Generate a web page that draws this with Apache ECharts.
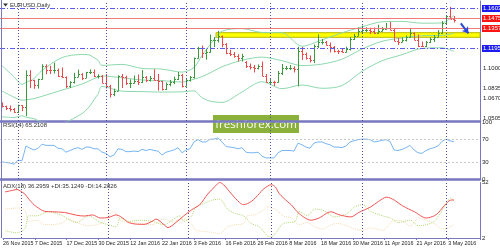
<!DOCTYPE html>
<html><head><meta charset="utf-8">
<script src="https://cdn.jsdelivr.net/npm/echarts@6/dist/echarts.min.js"></script>
<style>html,body{margin:0;padding:0;background:#fff}#c{width:500px;height:250px}</style>
</head><body><div id="c"></div>
<script>
// ---- data ----
const tickLabels = ["26 Nov 2015","7 Dec 2015","17 Dec 2015","30 Dec 2015","12 Jan 2016","22 Jan 2016","3 Feb 2016","16 Feb 2016","26 Feb 2016","8 Mar 2016","18 Mar 2016","30 Mar 2016","11 Apr 2016","21 Apr 2016","3 May 2016"];
const monthStarts = [4, 26, 46, 67, 90, 111];

const open = [1.0643,1.0623,1.0610,1.0593,1.0565,1.0632,1.0612,1.0940,1.0884,1.0834,
 1.0893,1.1024,1.0990,1.0989,1.0990,1.0930,1.0913,1.0830,1.0866,1.0920,
 1.0950,1.0910,1.0963,1.0970,1.0930,1.0930,1.0860,1.0830,1.0745,1.0780,
 1.0930,1.0920,1.0855,1.0855,1.0875,1.0866,1.0915,1.0890,1.0910,1.0890,
 1.0875,1.0795,1.0848,1.0867,1.0895,1.0935,1.0830,1.0890,1.0917,1.1105,
 1.1207,1.1155,1.1170,1.1290,1.1290,1.1325,1.1250,1.1155,1.1145,1.1130,
 1.1105,1.1070,1.1025,1.1015,1.1010,1.1025,1.0930,1.0870,1.0870,1.0865,
 1.0955,1.1005,1.1010,1.1010,1.0995,1.1180,1.1150,1.1110,1.1090,1.1225,
 1.1270,1.1270,1.1240,1.1215,1.1180,1.1175,1.1165,1.1200,1.1300,1.1330,
 1.1380,1.1390,1.1390,1.1380,1.1355,1.1375,1.1400,1.1405,1.1390,1.1275,
 1.1265,1.1285,1.1315,1.1355,1.1290,1.1230,1.1225,1.1265,1.1300,1.1315,
 1.1355,1.1455,1.1525,1.1500];
const high = [1.0660,1.0628,1.0630,1.0605,1.0638,1.0635,1.0981,1.0984,1.0888,1.0897,
 1.1043,1.1042,1.1027,1.1058,1.1000,1.1010,1.0922,1.0873,1.0957,1.0990,
 1.0953,1.0967,1.0990,1.0990,1.0942,1.0935,1.0945,1.0837,1.0798,1.0933,
 1.0945,1.0928,1.0892,1.0930,1.0940,1.0985,1.0925,1.0925,1.0992,1.0945,
 1.0876,1.0860,1.0885,1.0918,1.0965,1.0947,1.0905,1.0925,1.1110,1.1216,
 1.1230,1.1197,1.1339,1.1315,1.1376,1.1330,1.1254,1.1188,1.1165,1.1143,
 1.1147,1.1075,1.1050,1.1035,1.1040,1.1070,1.0945,1.0895,1.0877,1.0975,
 1.1045,1.1025,1.1035,1.1022,1.1218,1.1215,1.1160,1.1130,1.1240,1.1340,
 1.1295,1.1275,1.1260,1.1225,1.1187,1.1196,1.1218,1.1315,1.1346,1.1410,
 1.1430,1.1412,1.1408,1.1410,1.1437,1.1415,1.1456,1.1465,1.1400,1.1305,
 1.1312,1.1330,1.1395,1.1360,1.1340,1.1270,1.1275,1.1310,1.1335,1.1385,
 1.1475,1.1535,1.1616,1.1525];
const low = [1.0611,1.0584,1.0570,1.0557,1.0555,1.0573,1.0524,1.0803,1.0797,1.0800,
 1.0890,1.0942,1.0945,1.0950,1.0915,1.0905,1.0805,1.0805,1.0850,1.0915,
 1.0884,1.0906,1.0945,1.0915,1.0900,1.0855,1.0800,1.0710,1.0723,1.0778,
 1.0805,1.0835,1.0805,1.0850,1.0835,1.0856,1.0863,1.0870,1.0880,1.0778,
 1.0780,1.0786,1.0822,1.0843,1.0885,1.0810,1.0823,1.0870,1.0900,1.1100,
 1.1105,1.1088,1.1160,1.1215,1.1260,1.1212,1.1143,1.1124,1.1108,1.1070,
 1.1070,1.1005,1.0990,1.0960,1.0990,1.0925,1.0860,1.0845,1.0825,1.0860,
 1.0935,1.0984,1.0985,1.0960,1.0821,1.1085,1.1090,1.1060,1.1055,1.1205,
 1.1240,1.1230,1.1160,1.1160,1.1145,1.1160,1.1160,1.1180,1.1285,1.1325,
 1.1345,1.1365,1.1345,1.1347,1.1350,1.1370,1.1390,1.1385,1.1275,1.1235,
 1.1265,1.1270,1.1310,1.1285,1.1215,1.1215,1.1215,1.1255,1.1265,1.1315,
 1.1348,1.1445,1.1495,1.1460];
const close = [1.0623,1.0610,1.0593,1.0565,1.0632,1.0612,1.0940,1.0884,1.0834,1.0893,
 1.1024,1.0990,1.0989,1.0990,1.0930,1.0913,1.0830,1.0866,1.0920,1.0950,
 1.0910,1.0963,1.0970,1.0930,1.0930,1.0860,1.0830,1.0745,1.0780,1.0930,
 1.0920,1.0855,1.0855,1.0875,1.0866,1.0915,1.0890,1.0910,1.0890,1.0875,
 1.0795,1.0848,1.0867,1.0895,1.0935,1.0830,1.0890,1.0917,1.1105,1.1207,
 1.1155,1.1170,1.1290,1.1290,1.1325,1.1250,1.1155,1.1145,1.1130,1.1105,
 1.1130,1.1025,1.1015,1.1010,1.1025,1.0930,1.0870,1.0870,1.0865,1.0955,
 1.1005,1.1010,1.1010,1.0995,1.1180,1.1150,1.1110,1.1090,1.1225,1.1270,
 1.1270,1.1240,1.1215,1.1180,1.1175,1.1165,1.1200,1.1300,1.1330,1.1380,
 1.1390,1.1390,1.1380,1.1355,1.1375,1.1400,1.1405,1.1390,1.1275,1.1265,
 1.1285,1.1315,1.1355,1.1290,1.1230,1.1225,1.1265,1.1300,1.1315,1.1355,
 1.1455,1.1525,1.1500,1.1490];

const bbUpper = [[0,1.1029],[3,1.0917],[5,1.0841],[6,1.0861],[8,1.0900],[10,1.0980],[15,1.1109],[20,1.1140],[21,1.1139],[22,1.1134],[23,1.1108],[24,1.1083],[25,1.1031],[30,1.1041],[35,1.1001],[40,1.0994],[45,1.0964],[48,1.1010],[50,1.1130],[52,1.1238],[55,1.1372],[60,1.1399],[65,1.1360],[70,1.1358],[75,1.1223],[80,1.1286],[85,1.1357],[90,1.1416],[95,1.1467],[100,1.1471],[105,1.1453],[110,1.1456],[113,1.1531]];
const bbMiddle = [[0,1.0775],[3,1.0713],[5,1.0684],[6,1.0687],[8,1.0699],[10,1.0722],[15,1.0784],[20,1.0844],[22,1.0880],[23,1.0899],[24,1.0913],[25,1.0926],[30,1.0907],[35,1.0885],[40,1.0879],[45,1.0865],[48,1.0893],[50,1.0919],[52,1.0956],[55,1.1017],[60,1.1082],[65,1.1114],[70,1.1078],[75,1.1029],[80,1.1044],[85,1.1093],[90,1.1194],[95,1.1272],[100,1.1305],[105,1.1327],[110,1.1331],[113,1.1351]];
const bbLower = [[0,1.0517],[3,1.0510],[5,1.0527],[6,1.0513],[8,1.0498],[10,1.0464],[15,1.0459],[20,1.0548],[21,1.0583],[22,1.0626],[23,1.0689],[24,1.0743],[25,1.0821],[30,1.0773],[35,1.0769],[40,1.0764],[45,1.0767],[48,1.0776],[50,1.0708],[52,1.0674],[55,1.0661],[60,1.0765],[65,1.0868],[70,1.0798],[75,1.0835],[80,1.0802],[85,1.0829],[90,1.0972],[95,1.1077],[100,1.1138],[105,1.1201],[110,1.1207],[113,1.1171]];

const rsi = [30,29,28,26,33,32,58,54,51,54,61,59,59,59,54,53,47,50,53,55,
 52,56,56,53,53,47,45,39,42,53,52,48,48,49,48,52,50,52,50,49,
 42,47,49,51,55,46,51,53,65,69,65,65,70,70,72,65,57,56,55,53,
 55,47,46,46,47,40,37,37,37,46,50,50,50,49,63,60,56,54,63,65,
 65,62,60,56,56,55,58,65,67,69,70,70,69,65,66,68,69,66,51,50,
 52,55,59,51,46,45,50,53,55,58,66,70,67,65.2];

const adx = [[0,43.5],[2,45],[3,45.7],[4,44],[5,41.6],[6,37],[7,33],[8,30],[10,26],[12,25.6],[15,25],[18,22.5],[20,21.8],[22,22.8],[24,20],[26,20.5],[28,22.8],[30,19],[31,16],[33,14.5],[35,14.3],[37,17],[38,19],[40,14],[41,11.4],[43,16],[45,22],[47,27.5],[49,32],[51,41.6],[53,49],[54,52],[55,50],[57,41.6],[59,34],[60,32],[62,35],[64,42],[65,46],[67,50],[68,48],[69,42],[71,35],[72,32],[74,24],[77,18],[79,20],[82,25.6],[84,23],[87,21],[89,25],[92,30],[94,35],[96,38.8],[98,36],[100,31],[103,25.6],[106,20],[108,22],[109,24.6],[110,29],[111,33],[112,36],[113,36.3]];
const plusDI = [[0,8.6],[3,6.7],[5,10.5],[6,22],[8,22],[11,25.6],[14,22.8],[18,16],[21,21.8],[24,16],[26,14],[28,12],[29,20],[31,17],[34,18],[37,17],[40,14],[42,18],[44,22],[45,17],[47,22],[48,30],[50,33],[52,36],[54,37],[56,28],[58,24],[60,22],[62,15],[64,12],[66,4],[67,3],[68,6],[70,15],[73,17],[74,26],[76,22],[78,28],[80,27],[83,21],[86,24],[88,30],[90,32],[92,26],[95,22],[97,20],[99,16],[102,18],[104,13],[106,14],[108,17],[110,27],[111,33],[112,38],[113,35.1]];
const minusDI = [[0,28],[3,29],[5,27],[6,17],[8,18],[10,14],[14,15],[16,19],[18,16],[21,13],[24,15],[26,20],[27,26],[28,24],[29,18],[31,17],[34,15],[37,14],[40,19],[42,17],[45,19],[47,14],[48,9],[50,8],[52,7],[54,6],[56,12],[58,14],[60,15],[61,22],[63,23],[65,27],[66,30],[67,29],[68,28],[70,22],[72,20],[74,14],[76,16],[78,12],[80,10],[82,14],[84,15],[86,13],[88,10],[90,9],[92,11],[95,9],[98,18],[100,17],[102,13],[104,20],[106,18],[108,15],[110,10],[112,12],[113,14.3]];

const blueLevels = [1.1603, 1.1195];
const redLevels = [1.1511, 1.1475, 1.1357];
const priceTicks = [1.1665, 1.1000, 1.0835, 1.0670, 1.0505];
const rsiTicks = [100, 70, 30, 0];
const rsiLevels = [70, 30];
const adxTicks = [52, 2];
const zonePrice = [1.1312, 1.1358];
const zoneStart = 54;
const arrowFrom = [114.7, 1.1452];
const arrowTo = [116.6, 1.1352];

// ---- chart ----
const FONT = 'Liberation Sans';
const AXIS = '#7878c0';
const SEP = '#4f4f9f';
const half = v => v + 0.5;
const pairs = arr => arr.map(p => [half(p[0]), p[1]]);
const sepLines = monthStarts.map(m => ({xAxis: half(m)}));
const sepStyle = {color: SEP, type: [1, 2], width: 1};

function renderOHLC(params, api) {
  const i = half(api.value(0));
  const o = api.coord([i, api.value(1)]);
  const h = api.coord([i, api.value(2)]);
  const l = api.coord([i, api.value(3)]);
  const c = api.coord([i, api.value(4)]);
  const x = Math.round(h[0]) + 0.5;
  const color = api.value(4) >= api.value(1) ? '#3c9a3c' : '#ec4a4a';
  const oy = Math.round(o[1]) + 0.5, cy = Math.round(c[1]) + 0.5;
  return {type: 'group', children: [
    {type: 'line', shape: {x1: x, y1: h[1], x2: x, y2: l[1]}, style: {stroke: color, lineWidth: 1}},
    {type: 'line', shape: {x1: x - 1.5, y1: oy, x2: x, y2: oy}, style: {stroke: color, lineWidth: 1}},
    {type: 'line', shape: {x1: x, y1: cy, x2: x + 1.5, y2: cy}, style: {stroke: color, lineWidth: 1}}
  ]};
}

function xAxisOf(gi, show) {
  return {
    type: 'value', gridIndex: gi, min: 0, max: 120, interval: 8,
    axisLine: {show: true, onZero: false, lineStyle: {color: AXIS, width: show ? 1 : 2.5}},
    axisTick: {show: show, length: 2, lineStyle: {color: AXIS}},
    axisLabel: {show: show, showMinLabel: true, showMaxLabel: true, hideOverlap: false, fontSize: 5.4, fontFamily: FONT, color: '#222', margin: 3, align: 'left',
      formatter: v => tickLabels[Math.round(v / 8)] || ''},
    splitLine: {show: false}
  };
}
function yAxisOf(gi, min, max, interval, ticks) {
  return {
    type: 'value', gridIndex: gi, position: 'right', min: min, max: max, interval: interval,
    axisLine: {show: true, onZero: false, lineStyle: {color: AXIS, width: 1}},
    axisTick: {show: false},
    axisLabel: {show: !!ticks, showMinLabel: true, showMaxLabel: true, fontSize: 6, fontFamily: FONT, color: '#222', margin: 2,
      formatter: v => (ticks && ticks.indexOf(v) >= 0) ? String(v) : ''},
    splitLine: {show: false}
  };
}

const levelLines = []
  .concat(blueLevels.map(v => ({name: v.toFixed(4), yAxis: v, lineStyle: {color: '#5a5af0', type: [5, 2, 1, 2], width: 1},
    label: {show: true, backgroundColor: '#1c1cf0', color: '#fff'}})))
  .concat(redLevels.map(v => ({name: v.toFixed(4), yAxis: v, lineStyle: {color: '#f27a7a', type: 'solid', width: 1},
    label: {show: true, backgroundColor: '#ff1414', color: '#fff'}})))
  .concat(priceTicks.map(v => ({name: v.toFixed(4), yAxis: v, lineStyle: {color: 'rgba(0,0,0,0)', width: 0},
    label: {show: true, color: '#222'}})));

const option = {
  animation: false,
  grid: [
    {left: 0, top: 1, width: 480, height: 120},
    {left: 0, top: 122, width: 480, height: 57},
    {left: 0, top: 182.5, width: 480, height: 55.5}
  ],
  xAxis: [xAxisOf(0, false), xAxisOf(1, false), xAxisOf(2, true)],
  yAxis: [
    yAxisOf(0, 1.0475, 1.1675, 0.01, null),
    yAxisOf(1, 0, 100, 10, rsiTicks),
    yAxisOf(2, 2, 52, 2, adxTicks)
  ],
  series: [
    {type: 'line', xAxisIndex: 0, yAxisIndex: 0, data: [], z: 1,
      markArea: {silent: true, itemStyle: {color: '#ffff00', borderColor: '#b8b800', borderWidth: 1},
        data: [[{xAxis: zoneStart, yAxis: zonePrice[0]}, {xAxis: 120, yAxis: zonePrice[1]}]]}},
    {name: 'bbU', type: 'line', xAxisIndex: 0, yAxisIndex: 0, data: pairs(bbUpper), smooth: 0.3, showSymbol: false, z: 2,
      lineStyle: {color: '#8ed8ad', width: 1}},
    {name: 'bbL', type: 'line', xAxisIndex: 0, yAxisIndex: 0, data: pairs(bbLower), smooth: 0.3, showSymbol: false, z: 2,
      lineStyle: {color: '#8ed8ad', width: 1}},
    {name: 'bbM', type: 'line', xAxisIndex: 0, yAxisIndex: 0, data: pairs(bbMiddle), smooth: 0.3, showSymbol: false, z: 2,
      lineStyle: {color: '#8ed8ad', width: 1},
      markLine: {silent: true, symbol: ['none', 'none'], animation: false,
        label: {show: false, position: 'end', distance: 2, fontSize: 6, fontFamily: FONT, padding: [1, 1, 0, 1],
          formatter: p => p.name},
        data: levelLines.concat(sepLines.map(s => Object.assign({lineStyle: sepStyle, label: {show: false}}, s)))
          .concat([[{coord: [half(arrowFrom[0]), arrowFrom[1]], symbol: 'none'},
                    {coord: [half(arrowTo[0]), arrowTo[1]], symbol: 'arrow', symbolSize: 6}]].map(a => {
            a[0].lineStyle = {color: '#2c48d8', width: 2, type: 'solid'}; a[0].label = {show: false}; return a; }))
      }},
    {name: 'ohlc', type: 'custom', xAxisIndex: 0, yAxisIndex: 0, z: 3,
      data: close.map((c, i) => [i, open[i], high[i], low[i], c]),
      encode: {x: 0, y: [1, 2, 3, 4]}, renderItem: renderOHLC},
    {name: 'rsi', type: 'line', xAxisIndex: 1, yAxisIndex: 1, data: rsi.map((v, i) => [half(i), v]),
      showSymbol: false, lineStyle: {color: '#78b6f2', width: 1},
      markLine: {silent: true, symbol: ['none', 'none'], label: {show: false},
        data: rsiLevels.map(v => ({yAxis: v, lineStyle: {color: '#c8c8c8', type: [2, 2], width: 1}}))
          .concat(sepLines.map(s => Object.assign({lineStyle: sepStyle}, s)))}},
    {name: 'minusDI', type: 'line', xAxisIndex: 2, yAxisIndex: 2, data: pairs(minusDI), smooth: 0.3, showSymbol: false,
      lineStyle: {color: '#f6d9b2', width: 1, type: [1, 1]}},
    {name: 'plusDI', type: 'line', xAxisIndex: 2, yAxisIndex: 2, data: pairs(plusDI), smooth: 0.3, showSymbol: false,
      lineStyle: {color: '#b4d877', width: 1, type: [1, 1]}},
    {name: 'adx', type: 'line', xAxisIndex: 2, yAxisIndex: 2, data: pairs(adx), smooth: 0.3, showSymbol: false,
      lineStyle: {color: '#f25454', width: 1},
      markLine: {silent: true, symbol: ['none', 'none'], label: {show: false},
        data: sepLines.map(s => Object.assign({lineStyle: sepStyle}, s))}}
  ],
  graphic: [
    {type: 'line', shape: {x1: 1.5, y1: 0, x2: 1.5, y2: 238}, style: {stroke: AXIS, lineWidth: 1}, z: 50},
    {type: 'polygon', shape: {points: [[3, 3.5], [8, 3.5], [5.5, 6.5]]}, style: {fill: '#333'}, z: 50},
    {type: 'text', x: 10, y: 5, style: {text: 'EURUSD,Daily', font: '6px "Liberation Sans"', fill: '#333', verticalAlign: 'middle'}, z: 50},
    {type: 'text', x: 3, y: 125, style: {text: 'RSI(14) 65.2108', font: '6px "Liberation Sans"', fill: '#333', verticalAlign: 'middle'}, z: 50},
    {type: 'text', x: 3, y: 186, style: {text: 'ADX(18) 36.2959 +DI:35.1249 -DI:14.2826', font: '6px "Liberation Sans"', fill: '#333', verticalAlign: 'middle'}, z: 50},
    {type: 'group', x: 213, y: 115, z: 100, children: [
      {type: 'rect', shape: {x: 0, y: 0, width: 86, height: 18}, style: {fill: '#8bb13b'}},
      {type: 'text', x: 43, y: 9.5, style: {text: 'freshforex.com', font: '11.5px "Open Sans"', fill: '#ffffff', align: 'center', verticalAlign: 'middle'}}
    ]}
  ]
};
const chart = echarts.init(document.getElementById('c'));
chart.setOption(option);
</script>
</body></html>
